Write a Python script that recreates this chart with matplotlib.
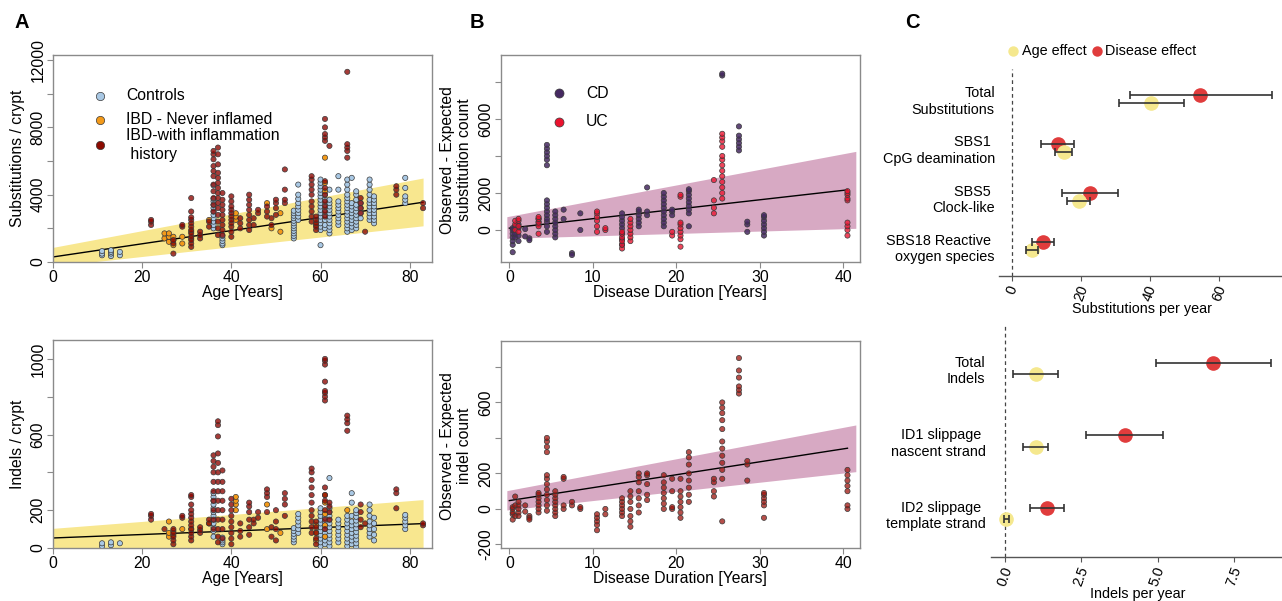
import matplotlib
matplotlib.use('Agg')
import matplotlib.pyplot as plt
import numpy as np

plt.rcParams['font.family'] = ['Liberation Sans', 'DejaVu Sans']

# ---------------- Panel A data (age vs burden) ----------------
ctrl_age_sub = [11, 13, 15, 36, 38, 54, 55, 60, 61, 62, 64, 66, 67, 68, 69, 71, 72, 79]
ctrl_sub = [
    [400, 500, 650], [350, 500, 600, 700], [400, 600],
    [2000, 2200, 2400, 2600, 2800, 3000, 3200, 3400, 3600, 3750, 4550],
    [1000, 1100, 1250, 1400, 1550],
    [1400, 1550, 1700, 1850, 2000, 2150, 2300, 2450, 2600, 2750, 2900, 3050],
    [2500, 2700, 2900, 3100, 3300, 3500, 3750, 4000, 4600],
    [1000, 1900, 2100, 2300, 2500, 2700, 2900, 3100, 3300, 3500, 3700, 3900, 4100, 4300, 4500, 4700, 4900],
    [2000, 2200, 2500, 2800, 3100, 3400, 3700, 4000],
    [1700, 1900, 2100, 2300, 2500, 2700, 2900, 3100, 3300, 3500, 3700, 4300],
    [2200, 2400, 2600, 2800, 3000, 3200, 3400, 3600, 4300, 5100],
    [1800, 2000, 2200, 2400, 2600, 2800, 3000, 3200, 3400, 3600, 3800, 4000, 4300, 4600, 4900],
    [1900, 2100, 2300, 2500, 2700, 2900, 3100, 3300, 3500, 5000],
    [2000, 2200, 2400, 2600, 2800, 3000, 3200, 3400, 3700, 4000, 4200],
    [2600, 2900, 3200, 3500],
    [2500, 2700, 2900, 3100, 3300, 3500, 3700, 4000, 4300, 4600, 4900],
    [2300, 2500, 2700, 2900, 3100, 3300, 3500, 3700, 3900],
    [3500, 3700, 3900, 4400, 5000],
]
infl_age_sub = [22, 27, 29, 31, 33, 35, 36, 37, 38, 40, 42, 44, 45, 46, 48, 49, 50, 52,
                58, 59, 61, 62, 66, 69, 70, 77, 83]
infl_sub = [
    [2200, 2400, 2500], [500, 1100, 1300], [2100, 2200],
    [900, 1100, 1300, 1500, 1700, 1900, 2100, 2300, 2500, 2650, 3000, 3800],
    [1400, 1600, 1800], [2100, 2400],
    [3000, 3400, 3800, 4200, 4600, 5100, 5400, 5700, 6100, 6400, 6600],
    [1600, 2000, 2400, 2800, 3200, 3500, 3800, 4100, 4400, 4700, 5000, 5300, 5800, 6400, 6800],
    [1600, 1900, 2200, 2500, 2800, 3100, 3400, 3700, 4100],
    [1500, 1800, 2100, 2300, 2500, 2700, 2900, 3100, 3300, 3600, 3900],
    [2000, 2300, 2600],
    [1900, 2200, 2500, 2800, 3100, 3400, 3700, 4000],
    [2200, 2600], [2900, 3100], [2700, 3000, 3300], [2200, 2600],
    [2800, 3200, 3500, 3700], [3500, 3700, 4300, 5500],
    [2400, 2700, 3000, 3300, 3600, 4000, 4300, 4600, 4900, 5100],
    [1900, 2100, 2300, 2500, 2700],
    [2700, 3000, 3300, 3600, 4000, 4400, 4800, 7200, 7400, 7600, 8000, 8500],
    [6900], [6200, 6600, 6800, 7000, 11300],
    [2900, 3200, 3500, 3800], [1800], [4000, 4300, 4500], [3200, 3500],
]
never_age_sub = [25, 26, 27, 29, 31, 35, 41, 48, 49, 51, 59, 61]
never_sub = [
    [1400, 1700], [1200, 1500, 1700], [1000, 1300, 1500], [1100, 1500],
    [1400, 1800], [2500], [2500, 2700, 2900], [3500], [2000], [1800, 2900],
    [2200], [4200, 4700, 6200],
]

ctrl_age_ind = [11, 13, 15, 36, 38, 54, 55, 60, 61, 62, 64, 66, 67, 68, 71, 72, 79]
ctrl_ind = [
    [10, 25], [15, 30], [25],
    [60, 90, 110, 130, 150, 170, 190, 210, 230, 250, 270, 290],
    [20, 30, 40, 55], [30, 45, 60, 75, 90, 105], [80, 100, 120, 140, 160, 180],
    [10, 30, 50, 70, 90, 110, 130, 150, 170, 190, 210],
    [20, 40, 60, 80, 100, 120, 140, 160],
    [10, 30, 50, 70, 90, 110, 130, 150, 170, 190, 210, 370],
    [30, 50, 70, 90, 110, 130, 150],
    [10, 30, 50, 70, 90, 110, 130, 150, 170],
    [20, 40, 60, 80, 100, 120, 140, 170, 240, 290],
    [5, 25, 45, 65, 85, 105, 125, 145, 165, 185, 200],
    [60, 80, 100, 120, 140, 170, 200, 230],
    [40, 70, 100, 130, 160], [100, 120, 140, 160, 175],
]
infl_age_ind = [22, 25, 27, 29, 31, 33, 35, 36, 37, 38, 40, 42, 44, 45, 46, 48, 49, 50, 52,
                58, 59, 61, 62, 66, 69, 70, 77, 83]
infl_ind = [
    [150, 170, 180], [100], [20, 40, 60, 80, 100], [160, 170],
    [40, 60, 80, 100, 120, 140, 160, 180, 200, 230, 270, 280],
    [80, 95, 110], [130, 150],
    [100, 150, 200, 250, 300, 350, 400, 430, 460, 490],
    [30, 60, 100, 150, 200, 250, 300, 350, 400, 450, 500, 590, 650, 670],
    [50, 100, 150, 200, 250, 300, 350, 410],
    [20, 50, 80, 110, 140, 170, 200, 230, 260],
    [60, 90, 130], [70, 110, 150, 190, 220, 240], [130, 150], [160, 190],
    [190, 270, 290, 310], [60, 110], [40, 100, 140, 200], [170, 230, 260, 290],
    [80, 110, 140, 170, 200, 240, 280, 320, 360, 400, 420],
    [20, 50, 80, 110, 140],
    [100, 150, 200, 250, 280, 320, 780, 800, 820, 830, 880, 970, 990, 1000],
    [150, 190, 220, 240], [620, 660, 680, 700], [110, 150, 190, 230], [130],
    [210, 290, 310], [120, 130],
]
never_age_ind = [26, 27, 29, 31, 35, 41, 48, 51, 59, 61, 66]
never_ind = [
    [60, 80, 140], [70, 90], [100], [100], [130], [200, 230, 250, 270],
    [100, 230], [80], [40, 80, 120], [60, 120, 180, 240, 280], [200],
]

# regression fit and band (read at the ends)
a_fit_x = [0, 83]
a_sub_fit = [300, 3550]
a_sub_lo = [-250, 2150]
a_sub_hi = [870, 4990]
a_ind_fit = [53, 129]
a_ind_lo = [0, 0]
a_ind_hi = [104, 256]

# ---------------- Panel B data (disease duration vs excess) ----------------
cd_dur = [0.4, 0.7, 1.1, 1.9, 2.4, 3.5, 4.5, 5.5, 6.5, 7.5, 8.5, 13.5, 15.5, 16.5, 18.5,
          19.5, 21.5, 25.5, 27.5, 28.5, 30.5]
cd_sub = [
    [-1200, -800, -600, -400, -200, 0, 100], [-400, -200, 200], [-600, -300, 100, 300],
    [-350, 50], [-450, -550], [300, 450, 600],
    [-100, 200, 450, 600, 800, 1000, 1200, 1400, 1600, 3500, 3800, 4000, 4200, 4400, 4600],
    [-400, -200, 0, 200, 400, 600, 800, 1000], [600, 1100], [-1250, -1350], [0, 900],
    [-800, -500, -200, 100, 300, 500, 700, 900], [200, 400, 600, 800, 1000, 1100],
    [800, 1000, 2300], [200, 400, 600, 800, 1000, 1200, 1400, 1600, 1800, 2000],
    [800, 1000, 1100], [200, 900, 1100, 1300, 1500, 1700, 1900, 2100, 2200],
    [8350, 8450], [4300, 4500, 4700, 4900, 5100, 5600], [-100, 300, 450],
    [-300, -100, 100, 300, 500, 700, 800],
]
uc_dur = [0.7, 1.1, 3.5, 10.5, 11.5, 13.5, 14.5, 19.5, 20.5, 24.5, 25.5, 40.5]
uc_sub = [
    [0, 300, 500], [-100, 200, 500, 600], [-200, 200, 400, 600, 700],
    [-100, 200, 500, 700, 900, 1000], [0, 100],
    [-1000, -800, -600, -400, -200, -100], [-600, -400, -200, 0, 200, 400, 600],
    [-300, -100], [-900, -500, -300, -100, 100, 300, 400, 1800, 1900],
    [900, 1200, 1600, 2700],
    [1700, 2000, 2300, 2600, 2900, 3200, 3500, 3800, 4000, 4500, 4800, 5000, 5200],
    [-300, 0, 200, 400, 1600, 1700, 1900, 2000, 2100],
]
ind_dur = [0.4, 0.7, 1.1, 1.9, 2.4, 3.5, 4.5, 5.5, 6.5, 7.5, 8.5, 10.5, 11.5, 13.5, 14.5,
           15.5, 16.5, 18.5, 19.5, 20.5, 21.5, 24.5, 25.5, 27.5, 28.5, 30.5, 40.5]
ind_excess = [
    [-60, -30, -20, 0, 10], [-40, 20, 70], [-40, -20, 0, 20, 40], [-15, 20], [-40, -50, -60],
    [-20, 0, 20, 40, 60, 80, 90],
    [-10, 20, 50, 80, 110, 140, 170, 190, 320, 350, 380, 400],
    [-40, -20, 0, 20, 40, 60, 80, 100], [0, 20, 170, 180], [20, 40], [0, 10],
    [-120, -90, -70, -50, -30], [-30, 0], [-40, -20, 0, 20, 40, 60],
    [-100, -70, -40, 0, 40, 70, 100], [-20, 20, 60, 100, 150, 180, 200],
    [50, 80, 140, 190, 200], [0, 30, 60, 90, 120, 150, 190], [0, 10, 100, 170],
    [-50, -20, 10, 40, 70, 100, 170], [40, 80, 120, 160, 200, 250, 290, 320],
    [70, 100, 150, 170],
    [-70, 170, 220, 260, 300, 340, 380, 450, 500, 540, 570, 600],
    [650, 670, 690, 740, 780, 850], [160, 250, 270], [-50, 20, 40, 60, 80, 90],
    [0, 20, 100, 130, 160, 190, 220],
]
b_band_x = [-0.3, 41.5]
b_line_x = [0, 40.5]
b_sub_fit = [100, 2170]
b_sub_lo = [-450, 90]
b_sub_hi = [720, 4250]
b_ind_fit = [47, 342]
b_ind_lo = [-6, 210]
b_ind_hi = [103, 473]

# ---------------- Panel C data (effects per year) ----------------
sub_labels = ['Total\nSubstitutions', 'SBS1 \nCpG deamination', 'SBS5 \nClock-like',
              'SBS18 Reactive \noxygen species']
sub_age = [40.4, 15.0, 19.3, 5.7]
sub_age_lo = [31.1, 12.5, 16.0, 3.9]
sub_age_hi = [49.9, 17.5, 22.6, 7.5]
sub_dis = [54.6, 13.2, 22.6, 9.0]
sub_dis_lo = [34.2, 8.3, 14.5, 5.8]
sub_dis_hi = [75.4, 18.0, 30.6, 12.2]

ind_labels = ['Total\nIndels', 'ID1 slippage \nnascent strand', 'ID2 slippage \ntemplate strand']
ind_age = [1.03, 1.03, 0.04]
ind_age_lo = [0.27, 0.60, -0.03]
ind_age_hi = [1.74, 1.42, 0.12]
ind_dis = [6.83, 3.92, 1.39]
ind_dis_lo = [4.96, 2.65, 0.83]
ind_dis_hi = [8.72, 5.17, 1.93]

# ---------------- drawing ----------------
W, H = 1282, 601
fig = plt.figure(figsize=(W / 100, H / 100), dpi=100)


def ax_px(l, t, r, b):
    return fig.add_axes([l / W, 1 - b / H, (r - l) / W, (b - t) / H])


def fx(px):
    return px / W


def fy(py):
    return 1 - py / H


def flat(xs, ys):
    X, Y = [], []
    for x, yy in zip(xs, ys):
        X += [x] * len(yy)
        Y += list(yy)
    return np.array(X, float), np.array(Y, float)


GRAY = '#8a8a8a'
FS = 11.3
FSC = 10.4


def r_axes(ax, xlim, ylim, xticks, yticks, shown):
    ax.set_xlim(xlim)
    ax.set_ylim(ylim)
    for s in ax.spines.values():
        s.set_color(GRAY)
        s.set_linewidth(1.0)
    ax.set_xticks(xticks)
    ax.set_xticklabels([str(t) for t in xticks])
    ax.set_yticks(yticks)
    ax.set_yticklabels([str(t) if t in shown else '' for t in yticks])
    ax.tick_params(axis='both', direction='out', length=4, width=0.8, color=GRAY,
                   labelsize=FS)
    ax.tick_params(axis='x', pad=1.5)
    ax.tick_params(axis='y', pad=1.5, labelrotation=90)
    for lab in ax.get_yticklabels():
        lab.set_va('center')


C_CTRL = '#a9c8e4'
C_NEVER = '#f39a1a'
C_INFL = (0.55, 0.02, 0.0, 0.78)
EDGE = '#3a3a3a'
S = 14


def scatter(ax, x, y, fc):
    ax.scatter(x, y, s=S, c=[fc] * len(x), edgecolors=EDGE, linewidths=0.5, zorder=3)


# --- A top
axA1 = ax_px(53, 55, 432, 262)
axA1.fill_between(a_fit_x, a_sub_lo, a_sub_hi, color='#f8e78f', lw=0, zorder=1)
axA1.plot(a_fit_x, a_sub_fit, color='black', lw=1.0, zorder=2)
scatter(axA1, *flat(ctrl_age_sub, ctrl_sub), C_CTRL)
scatter(axA1, *flat(never_age_sub, never_sub), C_NEVER)
scatter(axA1, *flat(infl_age_sub, infl_sub), C_INFL)
r_axes(axA1, (0, 85), (0, 12300), [0, 20, 40, 60, 80],
       [0, 2000, 4000, 6000, 8000, 10000, 12000], [0, 4000, 8000, 12000])

# --- A bottom
axA2 = ax_px(53, 340, 432, 548)
axA2.fill_between(a_fit_x, a_ind_lo, a_ind_hi, color='#f8e78f', lw=0, zorder=1)
axA2.plot(a_fit_x, a_ind_fit, color='black', lw=1.0, zorder=2)
scatter(axA2, *flat(ctrl_age_ind, ctrl_ind), C_CTRL)
scatter(axA2, *flat(never_age_ind, never_ind), C_NEVER)
scatter(axA2, *flat(infl_age_ind, infl_ind), C_INFL)
r_axes(axA2, (0, 85), (0, 1100), [0, 20, 40, 60, 80],
       [0, 200, 400, 600, 800, 1000], [0, 200, 600, 1000])

# --- B top
C_CD = (0.27, 0.16, 0.38, 0.85)
C_UC = (0.92, 0.07, 0.18, 0.78)
C_BIND = (0.62, 0.08, 0.05, 0.75)
axB1 = ax_px(501, 55, 860, 262)
axB1.fill_between(b_band_x, b_sub_lo, b_sub_hi, color='#d7a9c3', lw=0, zorder=1)
axB1.plot(b_line_x, b_sub_fit, color='black', lw=1.0, zorder=2)
scatter(axB1, *flat(cd_dur, cd_sub), C_CD)
scatter(axB1, *flat(uc_dur, uc_sub), C_UC)
r_axes(axB1, (-1.0, 42.0), (-1730, 9460), [0, 10, 20, 30, 40],
       [0, 2000, 4000, 6000, 8000], [0, 2000, 6000])

# --- B bottom
axB2 = ax_px(501, 341, 860, 548)
axB2.fill_between(b_band_x, b_ind_lo, b_ind_hi, color='#d7a9c3', lw=0, zorder=1)
axB2.plot(b_line_x, b_ind_fit, color='black', lw=1.0, zorder=2)
scatter(axB2, *flat(ind_dur, ind_excess), C_BIND)
r_axes(axB2, (-1.0, 42.0), (-220, 946), [0, 10, 20, 30, 40],
       [-200, 0, 200, 400, 600, 800], [-200, 0, 200, 600])

# axis labels A/B
fig.text(fx(242), fy(292), 'Age [Years]', ha='center', va='center', fontsize=FS)
fig.text(fx(242), fy(579), 'Age [Years]', ha='center', va='center', fontsize=FS)
fig.text(fx(680), fy(292), 'Disease Duration [Years]', ha='center', va='center', fontsize=FS)
fig.text(fx(680), fy(579), 'Disease Duration [Years]', ha='center', va='center', fontsize=FS)
fig.text(fx(18), fy(158), 'Substitutions / crypt', rotation=90, ha='center', va='center',
         rotation_mode='anchor', fontsize=FS)
fig.text(fx(18), fy(444), 'Indels / crypt', rotation=90, ha='center', va='center',
         rotation_mode='anchor', fontsize=FS)
fig.text(fx(456), fy(160), 'Observed - Expected\nsubstitution count', rotation=90,
         ha='center', va='center', rotation_mode='anchor', fontsize=FS, multialignment='center')
fig.text(fx(456), fy(446), 'Observed - Expected\nindel count', rotation=90,
         ha='center', va='center', rotation_mode='anchor', fontsize=FS, multialignment='center')


# legends A and B
def fig_marker(px, py, fc, ms, edge=True):
    fig.add_artist(plt.Line2D([fx(px)], [fy(py)], marker='o', ms=ms, mfc=fc,
                              mec=EDGE if edge else fc, mew=0.5 if edge else 0,
                              ls='none', transform=fig.transFigure))


fig_marker(100, 96, C_CTRL, 6)
fig_marker(100, 120, C_NEVER, 6)
fig_marker(100, 145, (0.55, 0.04, 0.0), 6)
fig.text(fx(126), fy(96), 'Controls', va='center', fontsize=FS)
fig.text(fx(126), fy(120), 'IBD - Never inflamed', va='center', fontsize=FS)
fig.text(fx(126), fy(136), 'IBD-with inflammation', va='center', fontsize=FS)
fig.text(fx(126), fy(154), ' history', va='center', fontsize=FS)

fig_marker(559, 93, (0.27, 0.16, 0.38), 6.5)
fig_marker(559, 122, (0.92, 0.07, 0.18), 6.5)
fig.text(fx(586), fy(93), 'CD', va='center', fontsize=FS)
fig.text(fx(586), fy(122), 'UC', va='center', fontsize=FS)

# --- Panel C
C_AGE = '#f5e88e'
C_DIS = '#e03c3c'
EB = '#333333'


def forest(ax, labels, age, alo, ahi, dis, dlo, dhi, off, xlim, ylim, xticks, xticklabels, pad):
    y = np.arange(len(labels))
    ax.set_xlim(xlim)
    ax.set_ylim(ylim)
    ax.axvline(0, color='#444444', lw=0.9, ls=(0, (3, 2.5)), zorder=1)
    ax.plot(dis, y - off, 'o', ms=9.5, color=C_DIS, zorder=2)
    ax.plot(age, y + off, 'o', ms=9.5, color=C_AGE, zorder=3)
    d = np.array(dis)
    a = np.array(age)
    ax.errorbar(d, y - off, xerr=[d - np.array(dlo), np.array(dhi) - d], fmt='none',
                ecolor=EB, elinewidth=1.2, capsize=3, capthick=1.2, zorder=4)
    ax.errorbar(a, y + off, xerr=[a - np.array(alo), np.array(ahi) - a], fmt='none',
                ecolor=EB, elinewidth=1.2, capsize=3, capthick=1.2, zorder=4)
    for k in ['top', 'right', 'left']:
        ax.spines[k].set_visible(False)
    ax.spines['bottom'].set_color('#555555')
    ax.spines['bottom'].set_linewidth(1.0)
    ax.set_yticks(y)
    ax.set_yticklabels(labels, fontsize=FSC, ha='right', multialignment='right')
    ax.tick_params(axis='y', length=0, pad=pad)
    ax.set_xticks(xticks)
    ax.set_xticklabels(xticklabels, fontsize=FSC, rotation=70, ha='center', va='top')
    ax.tick_params(axis='x', length=3.5, width=0.8, color='#555555', pad=2)
    ax.patch.set_alpha(0)


axC1 = ax_px(999, 69, 1282, 276)
forest(axC1, sub_labels, sub_age, sub_age_lo, sub_age_hi, sub_dis, sub_dis_lo, sub_dis_hi,
       0.08, (-3.8, 78.3), (3.61, -0.61), [0, 20, 40, 60], ['0', '20', '40', '60'], 3)
axC2 = ax_px(991, 325, 1282, 557)
forest(axC2, ind_labels, ind_age, ind_age_lo, ind_age_hi, ind_dis, ind_dis_lo, ind_dis_hi,
       0.076, (-0.46, 9.08), (2.6, -0.6), [0, 2.5, 5.0, 7.5], ['0.0', '2.5', '5.0', '7.5'], 4)

fig.text(fx(1142), fy(309), 'Substitutions per year', ha='center', va='center', fontsize=FSC)
fig.text(fx(1138), fy(594), 'Indels per year', ha='center', va='center', fontsize=FSC)

# legend C
fig_marker(1013, 51, C_AGE, 7.5, edge=False)
fig_marker(1097, 51, C_DIS, 7.5, edge=False)
fig.text(fx(1022), fy(51), 'Age effect', va='center', fontsize=FSC)
fig.text(fx(1105), fy(51), 'Disease effect', va='center', fontsize=FSC)

# panel letters
fig.text(fx(22), fy(22), 'A', ha='center', va='center', fontsize=14.5, fontweight='bold')
fig.text(fx(477), fy(22), 'B', ha='center', va='center', fontsize=14.5, fontweight='bold')
fig.text(fx(912), fy(22), 'C', ha='center', va='center', fontsize=14.5, fontweight='bold')

fig.savefig('out.png', dpi=100)
